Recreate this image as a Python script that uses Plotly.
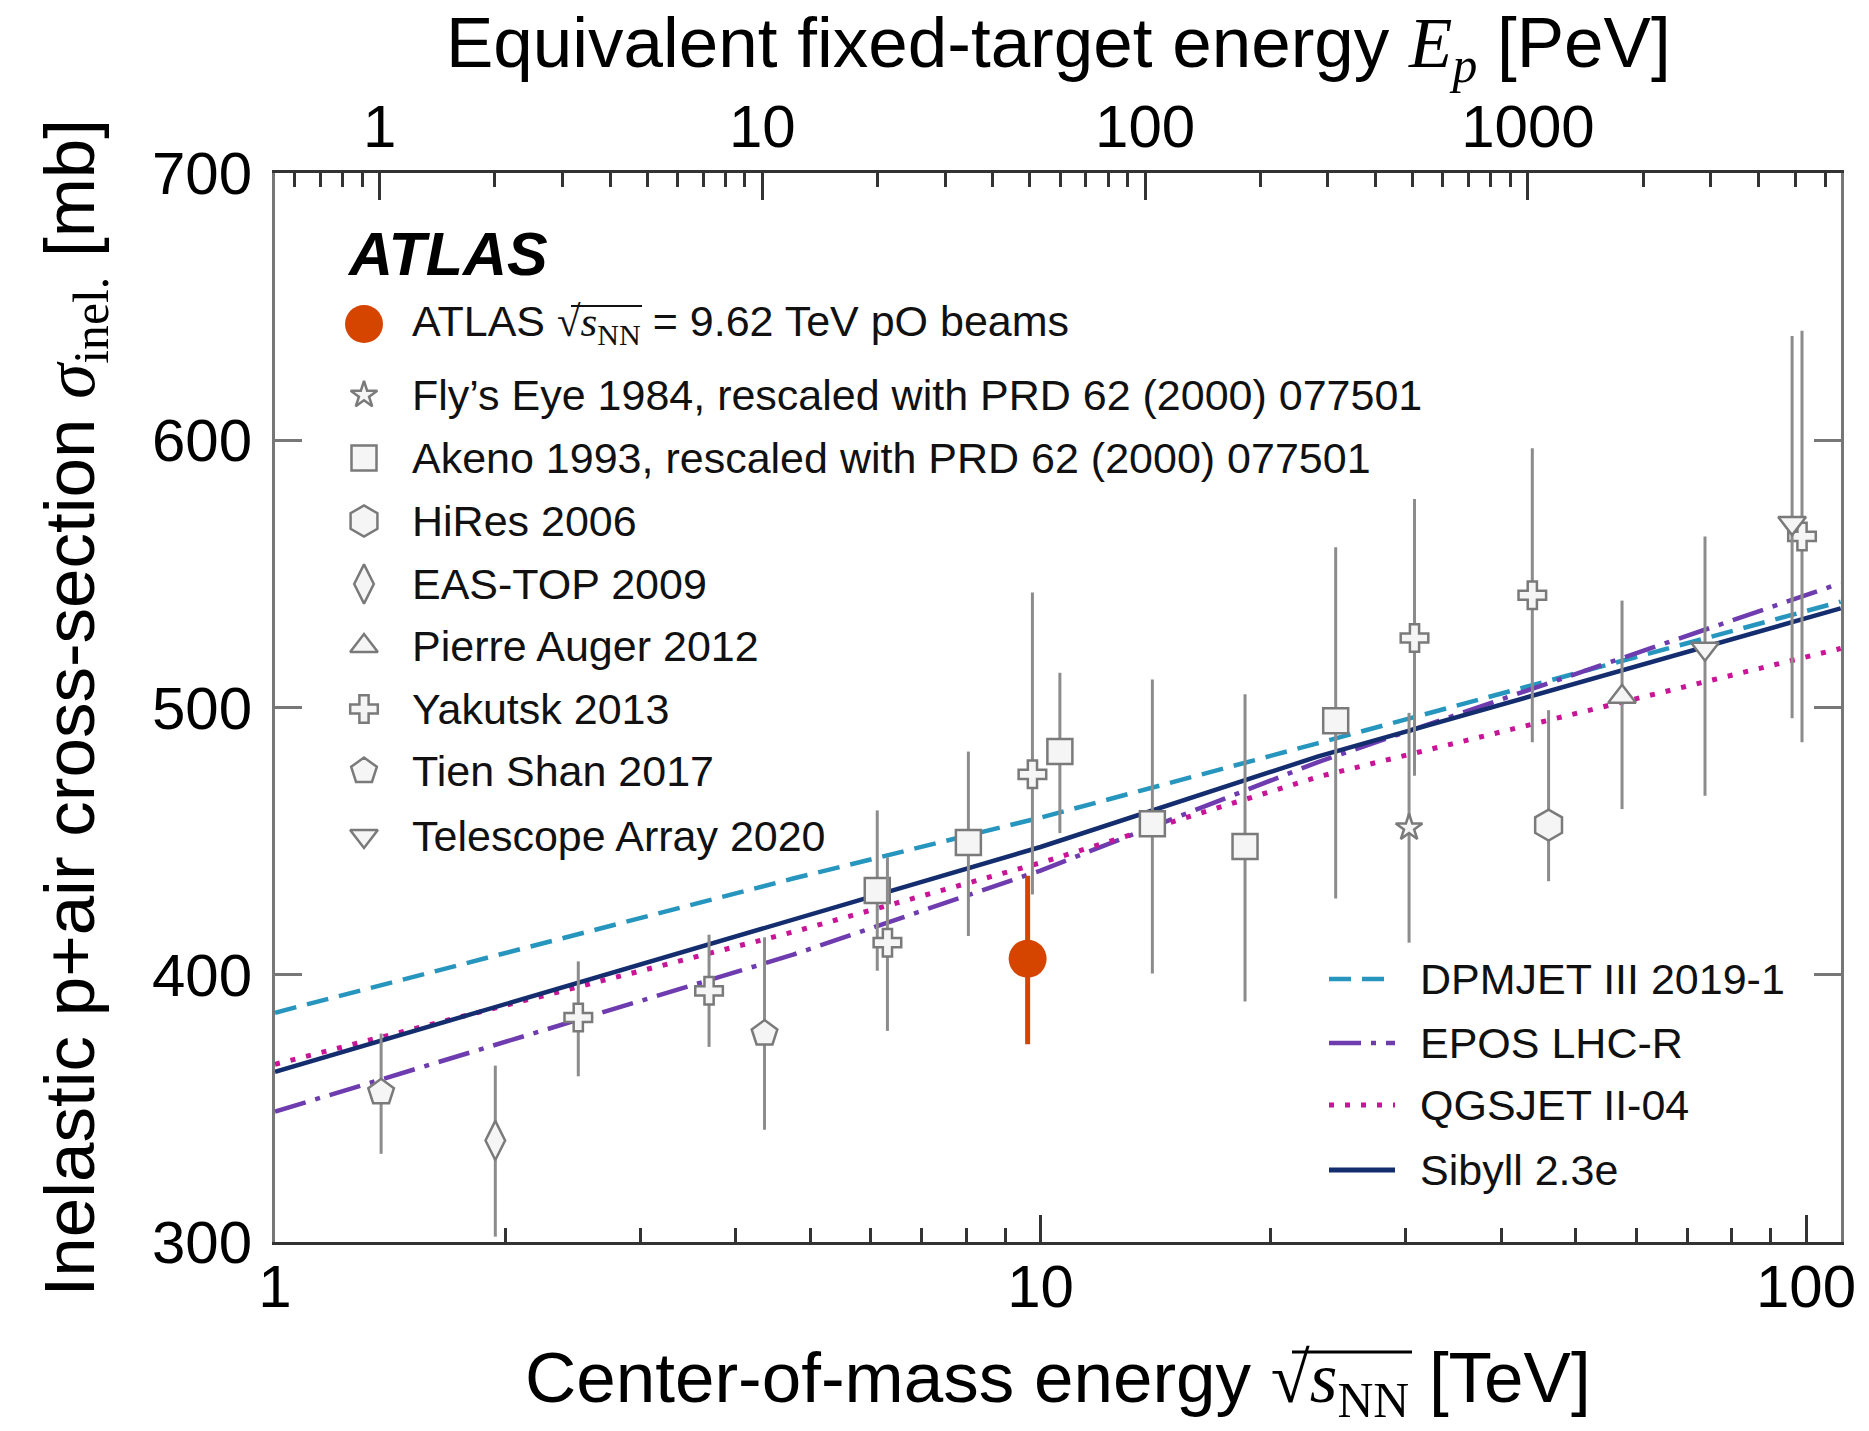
import math
import plotly.graph_objects as go

# ---------------------------------------------------------------------------
# Measurements: centre-of-mass energy sqrt(s_NN) [TeV], sigma_inel [mb],
# upper and lower uncertainty [mb]
# ---------------------------------------------------------------------------
atlas_e = [9.62]
atlas_sig = [406.0]
atlas_up = [31.0]
atlas_dn = [32.0]

flyseye_e = [30.3]
flyseye_sig = [455.0]
flyseye_up = [43.0]
flyseye_dn = [43.0]

akeno_e = [6.12, 8.05, 10.6, 14.0, 18.5, 24.3]
akeno_sig = [431.5, 449.5, 483.5, 456.5, 448.0, 495.0]
akeno_up = [30.0, 34.0, 29.5, 54.0, 57.0, 65.0]
akeno_dn = [30.0, 35.0, 30.5, 56.0, 58.0, 66.5]

hires_e = [46.1]
hires_sig = [456.0]
hires_up = [43.0]
hires_dn = [21.0]

eastop_e = [1.94]
eastop_sig = [338.0]
eastop_up = [28.0]
eastop_dn = [36.0]

auger_e = [57.5]
auger_sig = [504.0]
auger_up = [36.0]
auger_dn = [42.0]

yakutsk_e = [2.49, 3.69, 6.31, 9.76, 30.8, 43.9, 98.8]
yakutsk_sig = [384.0, 394.0, 412.0, 475.0, 526.0, 542.0, 564.0]
yakutsk_up = [21.0, 21.0, 32.0, 68.0, 52.0, 55.0, 77.0]
yakutsk_dn = [22.0, 21.0, 33.0, 45.0, 51.5, 55.0, 77.0]

tienshan_e = [1.376, 4.36]
tienshan_sig = [356.0, 378.0]
tienshan_up = [22.0, 36.0]
tienshan_dn = [23.0, 36.0]

ta_e = [73.8, 95.9]
ta_sig = [522.0, 569.0]
ta_up = [42.0, 70.0]
ta_dn = [55.0, 73.0]

# ---------------------------------------------------------------------------
# Hadronic interaction model predictions
# ---------------------------------------------------------------------------
model_e = [1.0, 4.75, 10.0, 23.0, 111.0]
dpmjet_sig = [385.8, 436.0, 458.8, 486.6, 539.6]
epos_sig = [348.8, 407.5, 439.0, 479.5, 546.5]
qgsjet_sig = [366.5, 416.0, 441.9, 474.0, 522.1]
sibyll_sig = [363.7, 420.5, 447.8, 481.6, 537.1]

# axis ticks
x_major = [1, 10, 100]
x_minor = [2, 3, 4, 5, 6, 7, 8, 9, 20, 30, 40, 50, 60, 70, 80, 90]
ep_major = [1, 10, 100, 1000]
ep_minor = [0.6, 0.7, 0.8, 0.9, 2, 3, 4, 5, 6, 7, 8, 9,
            20, 30, 40, 50, 60, 70, 80, 90,
            200, 300, 400, 500, 600, 700, 800, 900,
            2000, 3000, 4000, 5000, 6000]
y_ticks = [300, 400, 500, 600, 700]

# ---------------------------------------------------------------------------
# Styling / geometry
# ---------------------------------------------------------------------------
W, H = 1869, 1431
L, R, T, B = 275, 1841, 173, 1242
SANS = "Liberation Sans, Arial, Helvetica, sans-serif"
SERIF = "Liberation Serif"

ORANGE = "#d54500"
GREY_LINE = "#7a7a7a"
GREY_BAR = "#8c8c8c"
FILL = "#f5f5f5"
C_DPM = "#2696be"
C_EPOS = "#6e3caf"
C_QGS = "#c81496"
C_SIB = "#142d6e"

DASH_DPM = "22px,11px"
DASH_EPOS = "32px,10px,5px,10px"
DASH_QGS = "5px,11px"

X_LOG_MAX = 2.0457
# fixed-target equivalent: E_p [PeV] = s / (2 m_p)
EP_PER_S = 1e24 / (2 * 0.938272e9) / 1e15
ep_lo = math.log10(EP_PER_S)
ep_hi = ep_lo + 2 * X_LOG_MAX

TICK_FONT = 60
LEG_FONT = 43
TITLE_FONT = 71


def fx(px):
    return (px - L) / (R - L)


def fy(py):
    return (B - py) / (B - T)


fig = go.Figure()

# model curves
for name, sig, col, dash, wid in [
    ("DPMJET III 2019-1", dpmjet_sig, C_DPM, DASH_DPM, 4.5),
    ("EPOS LHC-R", epos_sig, C_EPOS, DASH_EPOS, 4.5),
    ("QGSJET II-04", qgsjet_sig, C_QGS, DASH_QGS, 5),
    ("Sibyll 2.3e", sibyll_sig, C_SIB, "solid", 4.5),
]:
    fig.add_trace(go.Scatter(
        x=model_e, y=sig, mode="lines", name=name,
        line=dict(color=col, width=wid, dash=dash),
        showlegend=False, hoverinfo="skip"))

# cosmic-ray measurements
datasets = [
    (flyseye_e, flyseye_sig, flyseye_up, flyseye_dn, "star", 20),
    (akeno_e, akeno_sig, akeno_up, akeno_dn, "square", 25),
    (hires_e, hires_sig, hires_up, hires_dn, "hexagon", 31),
    (eastop_e, eastop_sig, eastop_up, eastop_dn, "diamond-tall", 28),
    (auger_e, auger_sig, auger_up, auger_dn, "triangle-up", 24),
    (yakutsk_e, yakutsk_sig, yakutsk_up, yakutsk_dn, "cross", 23),
    (tienshan_e, tienshan_sig, tienshan_up, tienshan_dn, "pentagon", 27),
    (ta_e, ta_sig, ta_up, ta_dn, "triangle-down", 24),
]
for e, s, up, dn, sym, size in datasets:
    fig.add_trace(go.Scatter(
        x=e, y=s, mode="markers", showlegend=False, hoverinfo="skip",
        marker=dict(symbol=sym, size=size, color=FILL,
                    line=dict(color=GREY_LINE, width=2.5)),
        error_y=dict(type="data", symmetric=False, array=up, arrayminus=dn,
                     color=GREY_BAR, thickness=3, width=0)))

# ATLAS measurement
fig.add_trace(go.Scatter(
    x=atlas_e, y=atlas_sig, mode="markers", showlegend=False, hoverinfo="skip",
    marker=dict(symbol="circle", size=38, color=ORANGE),
    error_y=dict(type="data", symmetric=False, array=atlas_up,
                 arrayminus=atlas_dn, color=ORANGE, thickness=5, width=0)))

# top axis carrier
fig.add_trace(go.Scatter(x=[], y=[], xaxis="x2", yaxis="y", showlegend=False,
                         hoverinfo="skip"))

# ---------------------------------------------------------------------------
# Legends (glyphs on an overlay frame spanning the plotting area)
# ---------------------------------------------------------------------------
leg1_rows = [324, 395, 458, 521, 584, 646, 709, 771, 836]
leg1_glyph_x = 364
leg1_text_x = 410
nn = f"<span style='font-family:{SERIF}'>√<i>s</i><sub>NN</sub></span>"
leg1_labels = [
    f"ATLAS {nn} = 9.62 TeV pO beams",
    "Fly’s Eye 1984, rescaled with PRD 62 (2000) 077501",
    "Akeno 1993, rescaled with PRD 62 (2000) 077501",
    "HiRes 2006",
    "EAS-TOP 2009",
    "Pierre Auger 2012",
    "Yakutsk 2013",
    "Tien Shan 2017",
    "Telescope Array 2020",
]
leg1_syms = [("circle", 38)] + [(d[4], d[5]) for d in datasets]

annotations = []
shapes = []
for i, (row, lab) in enumerate(zip(leg1_rows, leg1_labels)):
    sym, size = leg1_syms[i]
    if i == 0:
        mk = dict(symbol=sym, size=size, color=ORANGE)
    else:
        mk = dict(symbol=sym, size=size, color=FILL,
                  line=dict(color=GREY_LINE, width=2.5))
    fig.add_trace(go.Scatter(x=[fx(leg1_glyph_x)], y=[fy(row)], mode="markers",
                             xaxis="x3", yaxis="y3", marker=mk,
                             showlegend=False, hoverinfo="skip"))
    annotations.append(dict(x=fx(leg1_text_x), y=fy(row), xref="paper", yref="paper",
                            text=lab, showarrow=False, xanchor="left", yanchor="middle",
                            font=dict(family=SANS, size=LEG_FONT, color="#111")))

# vinculum of the square root in the ATLAS legend entry and in the x title
shapes.append(dict(type="line", xref="paper", yref="paper",
                   x0=fx(571), x1=fx(642), y0=fy(306), y1=fy(306),
                   line=dict(color="#111", width=2)))
shapes.append(dict(type="line", xref="paper", yref="paper",
                   x0=fx(1292), x1=fx(1412), y0=fy(1352), y1=fy(1352),
                   line=dict(color="#000", width=3)))

annotations.append(dict(x=fx(345), y=fy(254), xref="paper", yref="paper",
                        text="<b><i>ATLAS</i></b>", showarrow=False,
                        xanchor="left", yanchor="middle",
                        font=dict(family=SANS, size=61, color="#000")))

leg2_rows = [979, 1043, 1105, 1170]
leg2_items = [
    ("DPMJET III 2019-1", C_DPM, DASH_DPM, 4.5),
    ("EPOS LHC-R", C_EPOS, DASH_EPOS, 4.5),
    ("QGSJET II-04", C_QGS, DASH_QGS, 5),
    ("Sibyll 2.3e", C_SIB, "solid", 5),
]
for row, (lab, col, dash, wid) in zip(leg2_rows, leg2_items):
    shapes.append(dict(type="line", xref="paper", yref="paper",
                       x0=fx(1329), x1=fx(1395), y0=fy(row), y1=fy(row),
                       line=dict(color=col, width=wid, dash=dash)))
    annotations.append(dict(x=fx(1418), y=fy(row), xref="paper", yref="paper",
                            text=lab, showarrow=False, xanchor="left", yanchor="middle",
                            font=dict(family=SANS, size=LEG_FONT, color="#111")))

# axis titles
annotations.append(dict(
    x=0.5, y=fy(1383), xref="paper", yref="paper", showarrow=False,
    text=f"Center-of-mass energy {nn} [TeV]",
    xanchor="center", yanchor="middle",
    font=dict(family=SANS, size=TITLE_FONT, color="#000")))
annotations.append(dict(
    x=0.5, y=fy(48), xref="paper", yref="paper", showarrow=False,
    text=f"Equivalent fixed-target energy <span style='font-family:{SERIF}'><i>E<sub>p</sub></i></span> [PeV]",
    xanchor="center", yanchor="middle",
    font=dict(family=SANS, size=TITLE_FONT, color="#000")))
annotations.append(dict(
    x=fx(74), y=0.5, xref="paper", yref="paper", showarrow=False, textangle=-90,
    text=f"Inelastic p+air cross-section <span style='font-family:{SERIF}'><i>σ</i><sub>inel.</sub></span> [mb]",
    xanchor="center", yanchor="middle",
    font=dict(family=SANS, size=TITLE_FONT, color="#000")))

axis_x_common = dict(
    type="log", showgrid=False, zeroline=False, showline=True,
    linecolor="#333", linewidth=3, ticks="inside", ticklen=27, tickwidth=2.5,
    tickcolor="#333", tickfont=dict(family=SANS, size=TICK_FONT, color="#000"),
)

fig.update_layout(
    width=W, height=H,
    margin=dict(l=L, r=W - R, t=T, b=H - B),
    paper_bgcolor="white", plot_bgcolor="white",
    showlegend=False,
    xaxis=dict(**axis_x_common, range=[0, X_LOG_MAX],
               tickmode="array", tickvals=x_major, ticktext=[str(v) for v in x_major],
               ticklabelstandoff=-10,
               minor=dict(tickmode="array", tickvals=x_minor, ticks="inside",
                          ticklen=14, tickwidth=2.5, tickcolor="#333", showgrid=False)),
    xaxis2=dict(**axis_x_common, overlaying="x", side="top", anchor="y",
                range=[ep_lo, ep_hi],
                tickmode="array", tickvals=ep_major, ticktext=[str(v) for v in ep_major],
                ticklabelstandoff=-1,
                minor=dict(tickmode="array", tickvals=ep_minor, ticks="inside",
                           ticklen=14, tickwidth=2.5, tickcolor="#333", showgrid=False)),
    yaxis=dict(range=[300, 700], tickmode="array", tickvals=y_ticks,
               showgrid=False, zeroline=False, showline=True, mirror="ticks",
               linecolor="#777", linewidth=3, ticks="inside", ticklen=27,
               tickwidth=2.5, tickcolor="#777", ticklabelstandoff=8,
               tickfont=dict(family=SANS, size=TICK_FONT, color="#000")),
    xaxis3=dict(overlaying="x", anchor="y3", range=[0, 1], visible=False,
                fixedrange=True),
    yaxis3=dict(overlaying="y", anchor="x3", range=[0, 1], visible=False,
                fixedrange=True),
    annotations=annotations,
    shapes=shapes,
)

fig.write_html("out.html")
